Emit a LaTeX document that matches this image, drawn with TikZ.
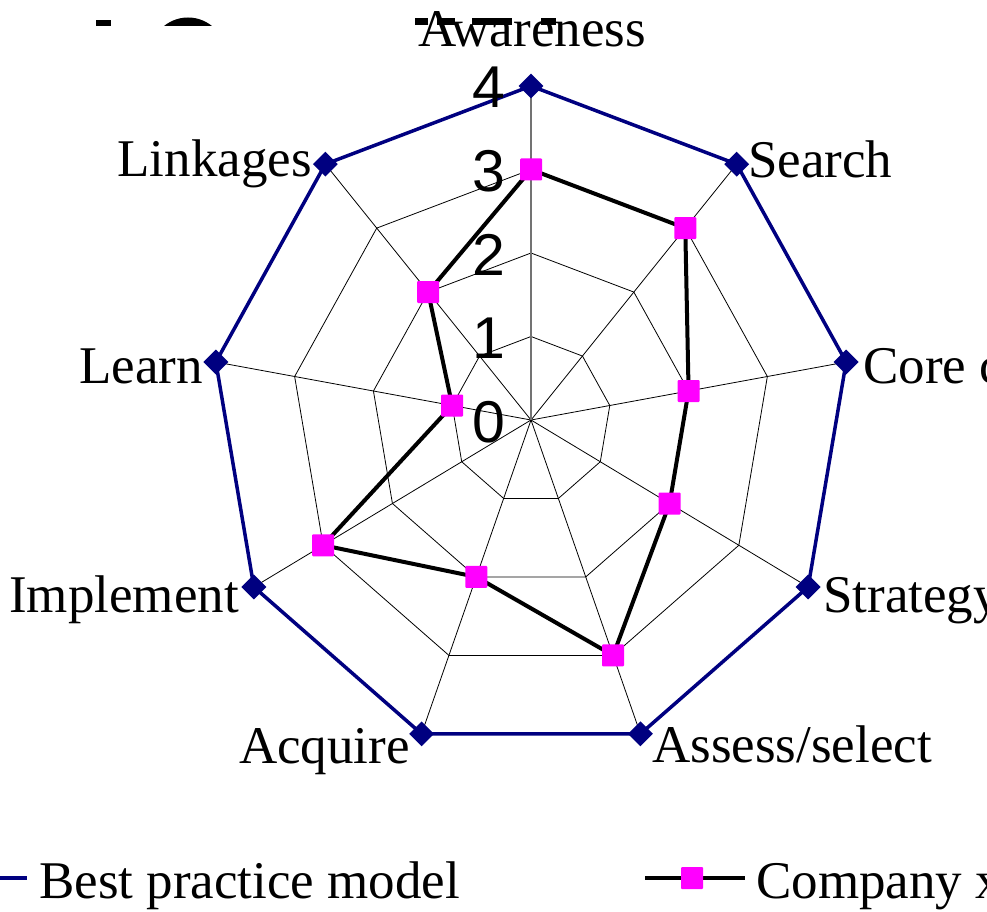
\documentclass[tikz,border=0pt]{standalone}
\usepackage{fontspec}
\setmainfont{Liberation Serif}
\newfontfamily\numfont{Liberation Sans}
\usetikzlibrary{shapes.geometric}
\definecolor{bpnavy}{RGB}{0,0,128}
\definecolor{cxmag}{RGB}{255,0,255}
\begin{document}
\begin{tikzpicture}[x=1pt,y=-1pt,
  gridline/.style={black,line width=0.8pt},
  axisline/.style={black!55,line width=1.3pt},
  bpline/.style={bpnavy,line width=3.5pt,line join=miter},
  cxline/.style={black,line width=4pt,line join=miter},
  bpmark/.style={diamond,fill=bpnavy,inner sep=0pt,minimum width=25pt,minimum height=25pt},
  cxmark/.style={rectangle,fill=cxmag,inner sep=0pt,minimum size=22pt,rounded corners=1pt},
  cat/.style={inner sep=0pt,font=\fontsize{53}{60}\selectfont},
  num/.style={inner sep=0pt,font=\numfont\fontsize{59}{66}\selectfont},
  frag/.style={fill=black}
]
\useasboundingbox (0,0) rectangle (987,912);
\clip (0,0) rectangle (987,912);
\fill[white] (0,0) rectangle (987,912);

% axis coordinates
\coordinate (ctr) at (531,420);
\foreach \k in {0,...,8}{
  \foreach \v in {1,2,3,4}{
    \coordinate (p\k-\v) at ({531+\v*80*sin(40*\k)},{420-\v*83.5*cos(40*\k)});
  }
}
% company x values
\foreach \k/\v in {0/3,1/3,2/2,3/2,4/3,5/2,6/3,7/1,8/2}{
  \coordinate (c\k) at ({531+\v*80*sin(40*\k)},{420-\v*83.5*cos(40*\k)});
}

% grid rings
\foreach \v in {1,2,3}{
  \draw[gridline] (p0-\v) -- (p1-\v) -- (p2-\v) -- (p3-\v) -- (p4-\v) -- (p5-\v) -- (p6-\v) -- (p7-\v) -- (p8-\v) -- cycle;
}
% spokes
\foreach \k in {1,...,8}{
  \draw[gridline] (ctr) -- (p\k-4);
}
\draw[axisline] (ctr) -- (p0-4);

% best practice polygon
\draw[bpline] (p0-4) -- (p1-4) -- (p2-4) -- (p3-4) -- (p4-4) -- (p5-4) -- (p6-4) -- (p7-4) -- (p8-4) -- cycle;
% company x polygon
\draw[cxline] (c0) -- (c1) -- (c2) -- (c3) -- (c4) -- (c5) -- (c6) -- (c7) -- (c8) -- cycle;

% markers
\foreach \k in {0,...,8}{
  \node[bpmark] (bm\k) at (p\k-4) {};
  \node[cxmark] (cm\k) at (c\k) {};
}

% scale numbers
\foreach \v in {0,...,4}{
  \node[num,anchor=base east] (n\v) at (506,{442-83.5*\v}) {\v};
}

% category labels
\node[cat,anchor=base] (lAware) at (532,47) {Awareness};
\node[cat,anchor=base west] (lSearch) at (748,178) {Search};
\node[cat,anchor=base west] (lCore) at (863,383) {Core competence};
\node[cat,anchor=base west] (lStrat) at (823,612) {Strategy};
\node[cat,anchor=base west] (lAssess) at (652,762) {Assess/select};
\node[cat,anchor=base east] (lAcq) at (410,763) {Acquire};
\node[cat,anchor=base east] (lImpl) at (239,612) {Implement};
\node[cat,anchor=base east] (lLearn) at (203,383) {Learn};
\node[cat,anchor=base east] (lLink) at (312,177) {Linkages};

% clipped title fragments
\fill[frag] (96,20) rectangle (111,26);
\begin{scope}
  \clip (0,0) rectangle (987,26);
  \fill[frag] (188,55.5) circle (38);
\end{scope}
\fill[frag] (415,18) rectangle (428,25.5);
\fill[frag] (437,18) rectangle (455,25.5);
\fill[frag] (472,18) rectangle (512,25.5);
\fill[frag] (541,18) rectangle (556,25.5);

% legend
\coordinate (lgA1) at (0,878);
\coordinate (lgA2) at (27,878);
\draw[bpline] (lgA1) -- (lgA2);
\node[cat,anchor=base west] (lgT1) at (39,898) {Best practice model};
\coordinate (lgB1) at (645,878);
\coordinate (lgB2) at (745,878);
\draw[cxline] (lgB1) -- (lgB2);
\node[cxmark] (lgM) at (692,878) {};
\node[cat,anchor=base west] (lgT2) at (756,898) {Company x};
\end{tikzpicture}
\end{document}
